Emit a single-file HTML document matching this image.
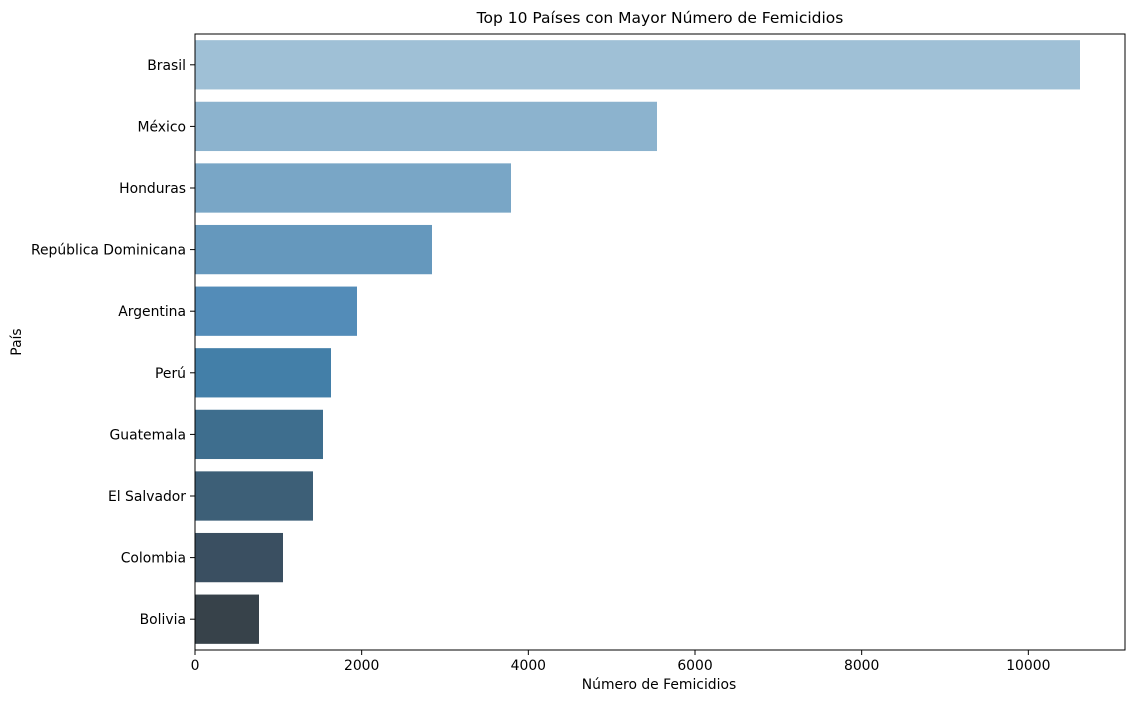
<!DOCTYPE html>
<html><head><meta charset="utf-8"><style>
body{margin:0;background:#fff;}
svg text{font-family:"DejaVu Sans","Liberation Sans",sans-serif;}
</style></head><body>
<svg id="chart" width="1134" height="702" xmlns="http://www.w3.org/2000/svg">
<rect width="1134" height="702" fill="#fff"/>
<text x="660" y="23" font-size="15.5" text-anchor="middle">Top 10 Países con Mayor Número de Femicidios</text>
<text x="659" y="689" font-size="13.9" text-anchor="middle">Número de Femicidios</text>
<text x="21" y="342" font-size="13.9" text-anchor="middle" transform="rotate(-90 21 342)">País</text>
<g id="bars"></g><g id="ticks"></g>
<rect x="195" y="34" width="930" height="616" fill="none" stroke="#000" stroke-width="1"/>
</svg>
<script>
const categories=["Brasil","México","Honduras","República Dominicana","Argentina","Perú","Guatemala","El Salvador","Colombia","Bolivia"];
const values=[10620,5544,3792,2844,1944,1632,1536,1416,1056,768];
const xTicks=[0,2000,4000,6000,8000,10000];
const colors=["#9fc0d6","#8cb3ce","#79a6c6","#6598bd","#538cb8","#437fa8","#3e6e8e","#3d5f77","#3a4f61","#37424a"];
const NS="http://www.w3.org/2000/svg";
const L=195,T=34,W=930,H=616,xMax=11160;
const x=v=>L+v/xMax*W;
const band=H/categories.length;
const y=i=>T+band*i;
const bars=document.getElementById('bars'),ticks=document.getElementById('ticks');
categories.forEach((c,i)=>{
  const r=document.createElementNS(NS,'rect');
  r.setAttribute('x',x(0));r.setAttribute('y',y(i)+band*0.1);
  r.setAttribute('width',x(values[i])-x(0));r.setAttribute('height',band*0.8);
  r.setAttribute('fill',colors[i]);
  
  
  bars.appendChild(r);
  const ln=document.createElementNS(NS,'line');
  ln.setAttribute('x1',L-5);ln.setAttribute('x2',L);ln.setAttribute('y1',y(i)+band/2);ln.setAttribute('y2',y(i)+band/2);ln.setAttribute('stroke','#000');
  ticks.appendChild(ln);
  const t=document.createElementNS(NS,'text');
  t.setAttribute('x',L-9);t.setAttribute('y',y(i)+band/2+5);t.setAttribute('text-anchor','end');t.setAttribute('font-size','13.9');
  t.textContent=c;
  
  
  ticks.appendChild(t);
});
xTicks.forEach(v=>{
  const ln=document.createElementNS(NS,'line');
  ln.setAttribute('x1',x(v));ln.setAttribute('x2',x(v));ln.setAttribute('y1',T+H);ln.setAttribute('y2',T+H+5);ln.setAttribute('stroke','#000');
  ticks.appendChild(ln);
  const t=document.createElementNS(NS,'text');
  t.setAttribute('x',x(v));t.setAttribute('y',T+H+20);t.setAttribute('text-anchor','middle');t.setAttribute('font-size','13.9');
  t.textContent=v;
  
  
  ticks.appendChild(t);
});
</script>
</body></html>
